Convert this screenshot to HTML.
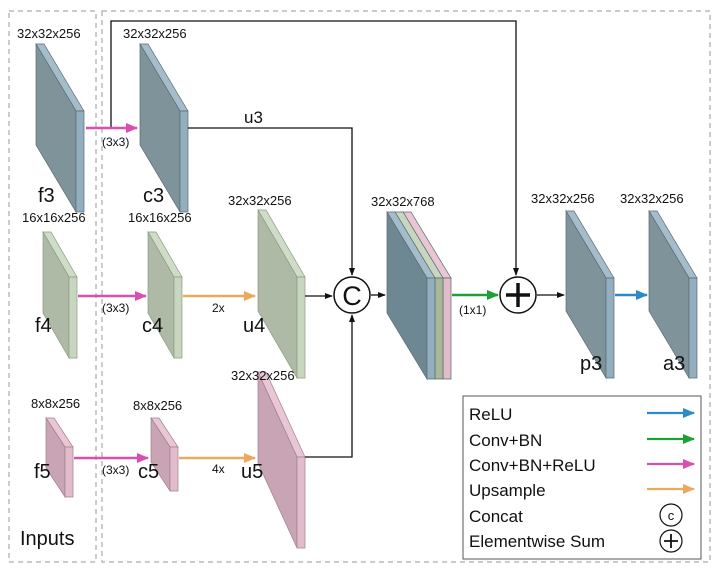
<!DOCTYPE html>
<html><head><meta charset="utf-8"><style>body{margin:0;background:#fff}svg{display:block}text{font-family:"Liberation Sans",sans-serif;fill:#111}</style></head><body>
<svg width="719" height="572" viewBox="0 0 719 572" xmlns="http://www.w3.org/2000/svg">
<defs>
<marker id="ak" markerWidth="8" markerHeight="8" refX="7" refY="4" orient="auto" markerUnits="userSpaceOnUse"><path d="M0,1 L8,4 L0,7z" fill="#111"/></marker>
<marker id="ap" markerWidth="12" markerHeight="10" refX="11" refY="5" orient="auto" markerUnits="userSpaceOnUse"><path d="M0,0 L12,5 L0,10z" fill="#d94fb0"/></marker>
<marker id="ao" markerWidth="12" markerHeight="10" refX="11" refY="5" orient="auto" markerUnits="userSpaceOnUse"><path d="M0,0 L12,5 L0,10z" fill="#eba95e"/></marker>
<marker id="ag" markerWidth="12" markerHeight="10" refX="11" refY="5" orient="auto" markerUnits="userSpaceOnUse"><path d="M0,0 L12,5 L0,10z" fill="#1aa334"/></marker>
<marker id="ab" markerWidth="12" markerHeight="10" refX="11" refY="5" orient="auto" markerUnits="userSpaceOnUse"><path d="M0,0 L12,5 L0,10z" fill="#2c8ac6"/></marker>
</defs>
<g fill="none" stroke="#aaa" stroke-dasharray="5,4" stroke-width="1.2">
<rect x="9" y="11" width="87" height="551"/><rect x="102" y="11" width="608" height="551"/>
</g>
<g stroke="#5a6a70" stroke-width="0.7">
<!-- blue slabs -->
<g><polygon points="36,44 44,44 84,111 76,111" fill="#a5bccb"/><polygon points="36,44 76,111 76,212 36,145" fill="#7e939a"/><polygon points="76,111 84,111 84,212 76,212" fill="#93afbf"/></g>
<g><polygon points="140,44 148,44 188,111 180,111" fill="#a5bccb"/><polygon points="140,44 180,111 180,212 140,145" fill="#7e939a"/><polygon points="180,111 188,111 188,212 180,212" fill="#93afbf"/></g>
<g><polygon points="566,211 574,211 614,278 606,278" fill="#a5bccb"/><polygon points="566,211 606,278 606,378 566,311" fill="#7e939a"/><polygon points="606,278 614,278 614,378 606,378" fill="#93afbf"/></g>
<g><polygon points="649,211 657,211 697,278 689,278" fill="#a5bccb"/><polygon points="649,211 689,278 689,378 649,311" fill="#7e939a"/><polygon points="689,278 697,278 697,378 689,378" fill="#93afbf"/></g>
</g>
<g stroke="#8a9a80" stroke-width="0.7">
<g><polygon points="43,232 51,232 77,277 69,277" fill="#cfdcc8"/><polygon points="43,232 69,277 69,358 43,313" fill="#aebaa6"/><polygon points="69,277 77,277 77,358 69,358" fill="#c8d6c0"/></g>
<g><polygon points="148,232 156,232 182,277 174,277" fill="#cfdcc8"/><polygon points="148,232 174,277 174,358 148,313" fill="#aebaa6"/><polygon points="174,277 182,277 182,358 174,358" fill="#c8d6c0"/></g>
<g><polygon points="258,210 266,210 305,277 297,277" fill="#cfdcc8"/><polygon points="258,210 297,277 297,378 258,311" fill="#aebaa6"/><polygon points="297,277 305,277 305,378 297,378" fill="#c8d6c0"/></g>
</g>
<g stroke="#a08090" stroke-width="0.7">
<g><polygon points="46,418 54,418 73,447 65,447" fill="#e8c6d4"/><polygon points="46,418 65,447 65,497 46,468" fill="#c9a4b4"/><polygon points="65,447 73,447 73,497 65,497" fill="#e2bccb"/></g>
<g><polygon points="151,418 159,418 178,447 170,447" fill="#e8c6d4"/><polygon points="151,418 170,447 170,491 151,462" fill="#c9a4b4"/><polygon points="170,447 178,447 178,491 170,491" fill="#e2bccb"/></g>
<g><polygon points="258,372 266,372 305,457 297,457" fill="#e8c6d4"/><polygon points="258,372 297,457 297,548 258,463" fill="#c9a4b4"/><polygon points="297,457 305,457 305,548 297,548" fill="#e2bccb"/></g>
</g>
<!-- concat -->
<g stroke="#5a6a70" stroke-width="0.7">
<polygon points="403,212 411,212 451,278 443,278" fill="#e8c6d4"/><polygon points="443,278 451,278 451,379 443,379" fill="#e2bccb"/>
<polygon points="395,212 403,212 443,278 435,278" fill="#c8d6c0"/><polygon points="435,278 443,278 443,379 435,379" fill="#a8b898"/>
<polygon points="387,212 395,212 435,278 427,278" fill="#a5bccb"/><polygon points="387,212 427,278 427,379 387,313" fill="#6e8893"/><polygon points="427,278 435,278 435,379 427,379" fill="#93afbf"/>
</g>
<!-- connectors -->
<g fill="none" stroke="#111" stroke-width="1.3">
<polyline points="111,128 111,21 516,21 516,275" marker-end="url(#ak)"/>
<polyline points="188,128 352,128 352,275" marker-end="url(#ak)"/>
<polyline points="305,296 332,296" marker-end="url(#ak)"/>
<polyline points="305,457 352,457 352,315" marker-end="url(#ak)"/>
<polyline points="371,295 385,295" marker-end="url(#ak)"/>
<polyline points="537,295 564,295" marker-end="url(#ak)"/>
</g>
<g fill="none" stroke-width="2.5">
<line x1="86" y1="128" x2="137" y2="128" stroke="#d94fb0" marker-end="url(#ap)"/>
<line x1="78" y1="296" x2="146" y2="296" stroke="#d94fb0" marker-end="url(#ap)"/>
<line x1="74" y1="458" x2="148" y2="458" stroke="#d94fb0" marker-end="url(#ap)"/>
<line x1="183" y1="296" x2="255" y2="296" stroke="#eba95e" marker-end="url(#ao)"/>
<line x1="179" y1="458" x2="255" y2="458" stroke="#eba95e" marker-end="url(#ao)"/>
<line x1="452" y1="295" x2="498" y2="295" stroke="#1aa334" marker-end="url(#ag)"/>
<line x1="615" y1="295" x2="647" y2="295" stroke="#2c8ac6" marker-end="url(#ab)"/>
</g>
<circle cx="352" cy="295" r="18" fill="#fff" stroke="#111" stroke-width="1.5"/>
<text x="352" y="305" font-size="27" text-anchor="middle">C</text>
<circle cx="518" cy="295" r="18" fill="#fff" stroke="#111" stroke-width="1.5"/>
<path d="M518,283 V307 M506,295 H530" stroke="#111" stroke-width="3.5"/>
<!-- labels -->
<g font-size="13">
<text x="17" y="38">32x32x256</text><text x="123" y="38">32x32x256</text>
<text x="22" y="222">16x16x256</text><text x="128" y="222">16x16x256</text>
<text x="228" y="205">32x32x256</text>
<text x="31" y="408">8x8x256</text><text x="133" y="410">8x8x256</text>
<text x="231" y="380">32x32x256</text>
<text x="371" y="206">32x32x768</text>
<text x="531" y="203">32x32x256</text><text x="620" y="203">32x32x256</text>
</g>
<g font-size="12">
<text x="102" y="146">(3x3)</text><text x="102" y="312">(3x3)</text><text x="102" y="474">(3x3)</text>
<text x="212" y="312">2x</text><text x="212" y="473">4x</text><text x="459" y="314">(1x1)</text>
</g>
<g font-size="20">
<text x="38" y="202">f3</text><text x="143" y="202">c3</text>
<text x="35" y="332">f4</text><text x="142" y="332">c4</text><text x="243" y="332">u4</text>
<text x="34" y="478">f5</text><text x="138" y="478">c5</text><text x="241" y="478">u5</text>
<text x="580" y="370">p3</text><text x="663" y="370">a3</text>
<text x="20" y="545">Inputs</text>
</g>
<text x="244" y="123" font-size="17">u3</text>
<!-- legend -->
<rect x="463" y="396" width="238" height="163" fill="#fff" stroke="#555" stroke-width="1"/>
<g font-size="17">
<text x="469" y="420">ReLU</text><text x="469" y="446">Conv+BN</text><text x="469" y="471">Conv+BN+ReLU</text>
<text x="469" y="496">Upsample</text><text x="469" y="522">Concat</text><text x="469" y="547">Elementwise Sum</text>
</g>
<g stroke-width="2.2">
<line x1="647" y1="413" x2="694" y2="413" stroke="#2c8ac6" marker-end="url(#ab)"/>
<line x1="647" y1="439" x2="694" y2="439" stroke="#1aa334" marker-end="url(#ag)"/>
<line x1="647" y1="464" x2="694" y2="464" stroke="#d94fb0" marker-end="url(#ap)"/>
<line x1="647" y1="489" x2="694" y2="489" stroke="#eba95e" marker-end="url(#ao)"/>
</g>
<circle cx="671" cy="515" r="11" fill="#fff" stroke="#111" stroke-width="1.2"/>
<text x="671" y="520" font-size="13" text-anchor="middle">c</text>
<circle cx="671" cy="541" r="11" fill="#fff" stroke="#111" stroke-width="1.2"/>
<path d="M671,534 V548 M664,541 H678" stroke="#111" stroke-width="1.8"/>
</svg>
</body></html>
